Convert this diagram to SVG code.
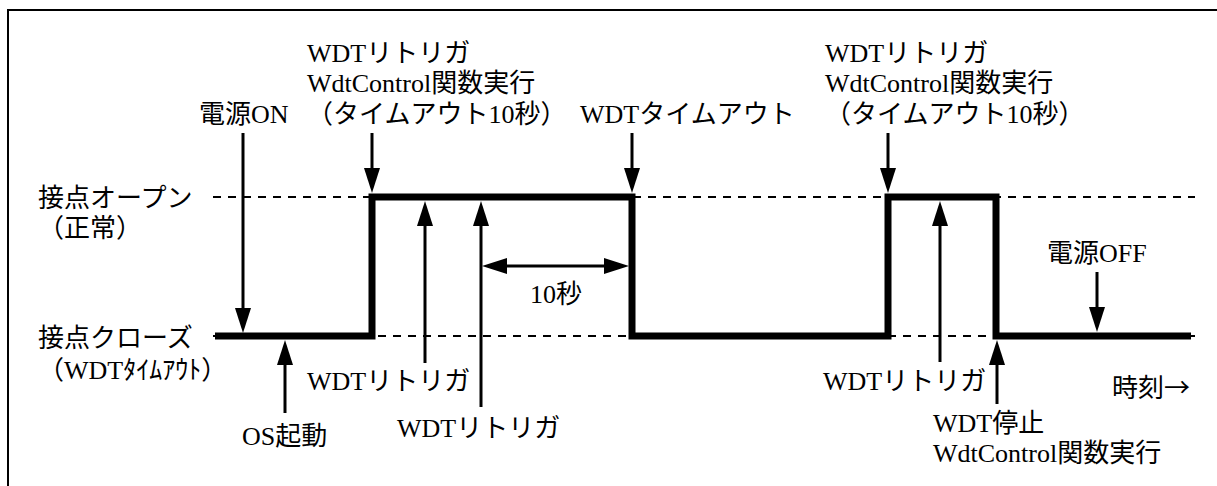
<svg xmlns="http://www.w3.org/2000/svg" width="1217" height="486" viewBox="0 0 1217 486">
<style>
text{font-family:'Liberation Serif','Noto Sans CJK JP',serif;font-size:26px;fill:#000}
.cjk{font-family:'Noto Sans CJK JP',sans-serif}
.dash{stroke:#000;stroke-width:2;stroke-dasharray:8 7;fill:none}
.sig{stroke:#000;stroke-width:7;fill:none;stroke-linejoin:miter}
.arr{stroke:#000;stroke-width:3;fill:none;marker-end:url(#ah)}
.arr2{stroke:#000;stroke-width:3;fill:none;marker-end:url(#ah);marker-start:url(#ahs)}
</style>
<defs>
<marker id="ah" viewBox="0 0 25 16" markerWidth="25" markerHeight="16" refX="15" refY="8" orient="auto" markerUnits="userSpaceOnUse"><path d="M0,0 L25,8 L0,16 Z" fill="#000"/></marker>
<marker id="ahs" viewBox="0 0 25 16" markerWidth="25" markerHeight="16" refX="10" refY="8" orient="auto" markerUnits="userSpaceOnUse"><path d="M25,0 L0,8 L25,16 Z" fill="#000"/></marker>
</defs>
<rect x="8" y="10" width="1300" height="600" fill="#fff" stroke="#000" stroke-width="2"/>
<g id="levels">
<line class="dash" x1="213" y1="197" x2="1195" y2="197"/>
<line class="dash" x1="213" y1="336" x2="1195" y2="336"/>
<path class="sig" d="M215,336 H372 V197 H632 V336 H888 V197 H996 V336 H1191"/>
</g>
<g id="connectors">
<line class="arr" x1="243" y1="133" x2="243" y2="323"/>
<line class="arr" x1="372" y1="133" x2="372" y2="183"/>
<line class="arr" x1="425" y1="363" x2="425" y2="211"/>
<line class="arr" x1="481" y1="407" x2="481" y2="211"/>
<line class="arr" x1="632" y1="133" x2="632" y2="183"/>
<line class="arr2" x1="492" y1="266" x2="619" y2="266"/>
<line class="arr" x1="285" y1="413" x2="285" y2="350"/>
<line class="arr" x1="888" y1="133" x2="888" y2="183"/>
<line class="arr" x1="940" y1="362" x2="940" y2="211"/>
<line class="arr" x1="997" y1="404" x2="997" y2="350"/>
<line class="arr" x1="1097" y1="272" x2="1097" y2="322"/>
</g>
<g id="axis-labels">
<text x="38" y="207">接点オープン</text>
<text x="38" y="237">（正常）</text>
<text x="38" y="347">接点クローズ</text>
<text x="38" y="379">（WDTﾀｲﾑｱｳﾄ）</text>
<text x="1112" y="397">時刻<tspan class="cjk">→</tspan></text>
</g>
<g id="power-on"><text x="199" y="123">電源ON</text></g>
<g id="trigger1">
<text x="307" y="62">WDTリトリガ</text>
<text x="307" y="92">WdtControl関数実行</text>
<text x="307" y="123">（タイムアウト10秒）</text>
</g>
<g id="timeout"><text x="580" y="123">WDTタイムアウト</text></g>
<g id="trigger2">
<text x="825" y="62">WDTリトリガ</text>
<text x="825" y="92">WdtControl関数実行</text>
<text x="825" y="123">（タイムアウト10秒）</text>
</g>
<g id="os-boot"><text x="242" y="445">OS起動</text></g>
<g id="retrigger1"><text x="307" y="390">WDTリトリガ</text></g>
<g id="retrigger2"><text x="397" y="437">WDTリトリガ</text></g>
<g id="ten-sec"><text x="530" y="303">10秒</text></g>
<g id="retrigger3"><text x="823" y="390">WDTリトリガ</text></g>
<g id="wdt-stop">
<text x="933" y="432">WDT停止</text>
<text x="933" y="462">WdtControl関数実行</text>
</g>
<g id="power-off"><text x="1047" y="262">電源OFF</text></g>
</svg>
